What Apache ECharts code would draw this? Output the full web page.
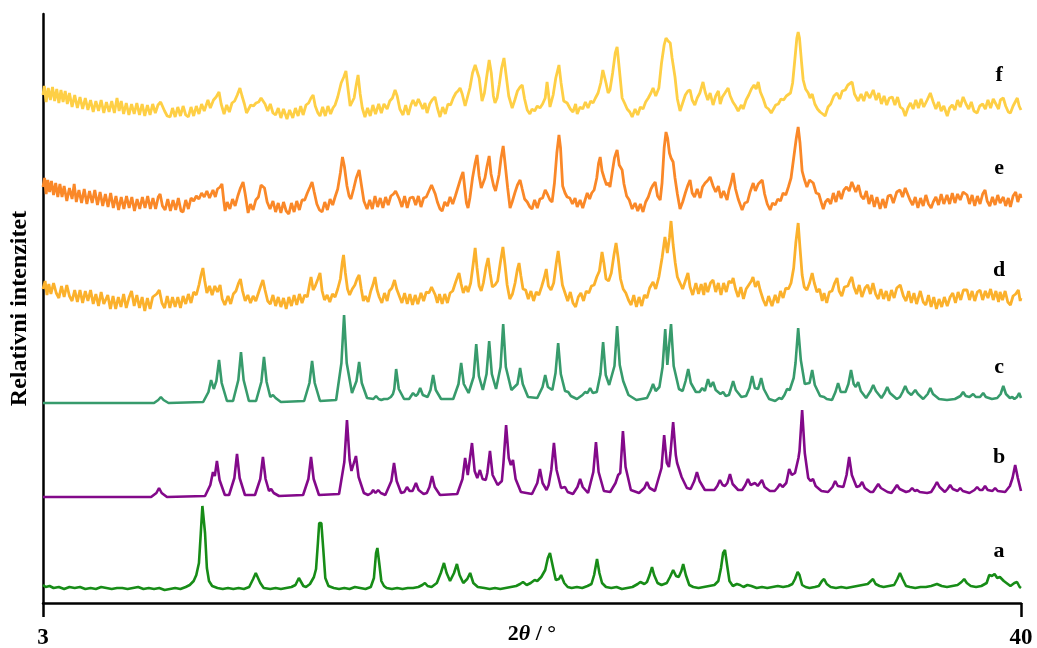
<!DOCTYPE html>
<html>
<head>
<meta charset="utf-8">
<script src="https://cdn.jsdelivr.net/npm/echarts@6/dist/echarts.min.js"></script>
<style>
html, body { margin: 0; padding: 0; background: #fff; }
#chart { width: 1037px; height: 648px; }
</style>
</head>
<body>
<div id="chart"></div>
<script>
// 2theta (deg) vs relative intensity, traces already stacked with their offsets
var traceA = [[3.0,18],[3.1,16],[3.25,17],[3.4,15],[3.6,16],[3.8,14],[4.0,16],[4.2,15],[4.4,16],[4.6,14],[4.8,15],[5.0,14],[5.2,16],[5.4,15],[5.6,14],[5.8,15],[6.0,15],[6.2,14],[6.4,15],[6.6,16],[6.8,14],[7.0,15],[7.2,14],[7.4,15],[7.6,13],[7.8,14],[8.0,15],[8.2,14],[8.4,16],[8.55,18],[8.7,22],[8.8,28],[8.9,40],[8.97,70],[9.03,97],[9.08,99],[9.13,70],[9.2,35],[9.28,22],[9.4,17],[9.6,15],[9.8,14],[10.0,15],[10.2,14],[10.4,15],[10.6,14],[10.8,16],[10.95,24],[11.05,30],[11.12,29],[11.22,20],[11.35,15],[11.6,14],[11.8,15],[12.0,14],[12.2,15],[12.4,16],[12.55,18],[12.68,25],[12.75,24],[12.85,17],[12.95,16],[13.1,19],[13.25,26],[13.33,34],[13.4,60],[13.45,80],[13.53,80],[13.6,55],[13.68,25],[13.8,17],[14.0,15],[14.2,14],[14.4,15],[14.6,14],[14.8,16],[15.0,15],[15.2,14],[15.4,16],[15.52,25],[15.6,50],[15.65,55],[15.72,40],[15.8,22],[15.9,17],[16.0,15],[16.2,14],[16.4,15],[16.6,14],[16.8,15],[17.0,15],[17.2,16],[17.35,18],[17.45,20],[17.55,17],[17.7,16],[17.9,20],[18.05,30],[18.17,40],[18.27,30],[18.4,22],[18.55,30],[18.66,39],[18.76,28],[18.9,20],[19.05,24],[19.16,30],[19.28,20],[19.45,16],[19.7,15],[19.9,14],[20.1,15],[20.3,14],[20.5,15],[20.7,16],[20.9,17],[21.05,19],[21.16,21],[21.3,18],[21.45,20],[21.6,23],[21.7,22],[21.85,26],[22.0,33],[22.1,45],[22.18,50],[22.3,35],[22.4,23],[22.52,24],[22.6,28],[22.72,20],[22.85,16],[23.0,15],[23.2,16],[23.4,15],[23.6,17],[23.75,19],[23.85,28],[23.96,44],[24.05,30],[24.15,20],[24.3,16],[24.5,15],[24.7,16],[24.9,14],[25.1,15],[25.3,16],[25.5,19],[25.6,21],[25.75,19],[25.85,21],[25.95,28],[26.04,36],[26.12,28],[26.25,20],[26.4,18],[26.6,20],[26.72,26],[26.84,33],[26.95,27],[27.05,26],[27.15,32],[27.22,39],[27.32,28],[27.45,18],[27.6,16],[27.8,15],[28.0,16],[28.2,17],[28.4,18],[28.55,22],[28.65,35],[28.73,50],[28.8,53],[28.88,38],[28.97,22],[29.1,17],[29.25,19],[29.37,18],[29.5,16],[29.65,18],[29.8,17],[30.0,15],[30.2,16],[30.4,15],[30.6,16],[30.8,17],[31.0,16],[31.2,17],[31.35,19],[31.45,24],[31.55,31],[31.62,28],[31.72,18],[31.85,16],[32.0,15],[32.2,16],[32.35,17],[32.47,22],[32.55,24],[32.65,19],[32.8,16],[33.0,15],[33.2,16],[33.4,15],[33.6,16],[33.8,17],[34.0,18],[34.2,19],[34.32,22],[34.4,24],[34.5,19],[34.65,17],[34.8,16],[35.0,17],[35.2,18],[35.32,24],[35.42,30],[35.52,24],[35.65,17],[35.8,16],[36.0,15],[36.2,16],[36.4,16],[36.6,17],[36.82,19],[37.0,17],[37.2,16],[37.4,17],[37.6,18],[37.75,21],[37.85,24],[37.95,20],[38.1,17],[38.3,16],[38.5,17],[38.7,20],[38.8,28],[38.9,27],[39.0,29],[39.1,25],[39.2,26],[39.35,22],[39.5,19],[39.6,17],[39.75,20],[39.85,21],[39.95,16],[40.0,15]];

var traceB = [[3,106],[7.09,106],[7.29,110],[7.39,115],[7.49,110],[7.69,106],[9.13,107],[9.33,118],[9.43,131],[9.5,127],[9.58,142],[9.68,123],[9.88,108],[10.04,108],[10.24,125],[10.34,149],[10.44,125],[10.64,108],[11.02,108],[11.22,124],[11.32,146],[11.42,124],[11.55,112],[11.63,114],[11.73,110],[11.93,107],[12.84,108],[13.04,124],[13.14,146],[13.24,124],[13.44,108],[14.2,109],[14.4,141],[14.5,183],[14.6,143],[14.67,132],[14.74,130],[14.84,147],[14.94,126],[15.14,110],[15.3,108],[15.42,110],[15.49,113],[15.58,110],[15.68,113],[15.78,110],[15.95,108],[16.18,122],[16.28,140],[16.38,122],[16.55,110],[16.67,111],[16.77,116],[16.87,112],[16.98,112],[17.11,120],[17.21,113],[17.4,109],[17.52,110],[17.62,116],[17.72,127],[17.82,116],[18.02,108],[18.67,109],[18.87,124],[18.97,145],[19.07,128],[19.13,130],[19.23,160],[19.33,132],[19.43,125],[19.53,133],[19.63,124],[19.75,123],[19.81,130],[19.91,152],[20.01,128],[20.2,118],[20.36,122],[20.42,140],[20.52,178],[20.62,145],[20.7,138],[20.78,143],[20.88,124],[21.08,111],[21.5,109],[21.7,120],[21.8,134],[21.9,120],[22.05,113],[22.13,118],[22.23,133],[22.33,160],[22.43,133],[22.6,115],[22.75,116],[22.85,111],[23.05,109],[23.12,110],[23.22,116],[23.32,124],[23.42,116],[23.62,110],[23.82,131],[23.92,161],[24.02,131],[24.22,112],[24.46,111],[24.66,120],[24.76,128],[24.84,130],[24.94,172],[25.04,136],[25.24,113],[25.55,110],[25.75,115],[25.85,121],[25.95,115],[26.15,112],[26.2,112],[26.4,135],[26.5,168],[26.6,140],[26.68,136],[26.74,150],[26.84,181],[26.94,148],[26.99,140],[27.06,142],[27.16,126],[27.36,115],[27.5,114],[27.64,122],[27.74,131],[27.84,122],[28.04,113],[28.4,113],[28.51,117],[28.61,123],[28.71,118],[28.8,117],[28.89,120],[28.99,129],[29.09,119],[29.3,113],[29.45,113],[29.57,118],[29.67,124],[29.77,118],[29.84,117],[29.94,120],[30.04,117],[30.11,118],[30.2,123],[30.3,116],[30.5,112],[30.68,112],[30.78,115],[30.88,119],[30.98,116],[31.12,120],[31.23,134],[31.33,128],[31.45,130],[31.58,145],[31.62,152],[31.72,193],[31.82,150],[31.95,125],[32.04,122],[32.13,124],[32.23,117],[32.45,112],[32.7,111],[32.87,116],[32.97,122],[33.07,117],[33.28,116],[33.4,128],[33.5,146],[33.6,128],[33.78,116],[33.89,117],[33.99,121],[34.09,115],[34.3,111],[34.4,111],[34.5,115],[34.6,119],[34.7,115],[34.95,111],[35.1,110],[35.21,114],[35.31,118],[35.41,114],[35.65,111],[35.78,112],[35.88,115],[35.98,112],[36.07,113],[36.17,111],[36.45,110],[36.6,111],[36.72,116],[36.82,121],[36.92,116],[37.12,111],[37.22,114],[37.32,118],[37.42,114],[37.6,112],[37.7,115],[37.8,112],[38.05,110],[38.24,113],[38.34,116],[38.44,113],[38.54,113],[38.64,117],[38.74,113],[38.92,112],[39.02,115],[39.12,112],[39.4,111],[39.58,117],[39.68,125],[39.78,138],[39.88,125],[40.0,112]];

var traceC = [[3,200],[7.2,200],[7.36,203],[7.46,206],[7.56,203],[7.75,200],[9.06,201],[9.26,211],[9.36,223],[9.46,214],[9.56,222],[9.66,243],[9.76,220],[9.96,202],[10.19,202],[10.39,223],[10.49,251],[10.59,223],[10.79,202],[11.06,202],[11.26,221],[11.36,246],[11.46,221],[11.6,206],[11.7,208],[11.8,205],[12.0,201],[12.88,202],[13.08,220],[13.18,242],[13.28,220],[13.48,202],[14.09,203],[14.29,240],[14.39,288],[14.49,240],[14.69,210],[14.86,222],[14.96,241],[15.06,220],[15.26,205],[15.5,204],[15.6,207],[15.7,204],[15.8,203],[15.86,205],[15.9,204],[15.94,206],[16.04,204],[16.16,206],[16.24,209],[16.29,214],[16.36,234],[16.46,214],[16.66,204],[16.85,204],[17.0,210],[17.1,207],[17.18,209],[17.27,215],[17.37,208],[17.55,206],[17.66,213],[17.76,228],[17.86,213],[18.06,204],[18.52,204],[18.72,219],[18.82,240],[18.92,219],[19.1,210],[19.29,226],[19.39,259],[19.49,227],[19.64,213],[19.78,229],[19.88,262],[19.98,229],[20.14,214],[20.31,236],[20.41,279],[20.51,236],[20.72,213],[20.95,219],[21.05,235],[21.15,219],[21.35,206],[21.7,205],[21.9,216],[22.0,228],[22.1,216],[22.27,213],[22.39,230],[22.49,260],[22.59,229],[22.75,212],[22.87,211],[22.97,207],[23.2,204],[23.41,208],[23.51,211],[23.6,210],[23.7,215],[23.8,210],[23.95,211],[24.09,229],[24.19,261],[24.29,228],[24.42,218],[24.62,237],[24.72,277],[24.82,238],[24.95,222],[25.15,208],[25.45,203],[25.85,205],[25.98,212],[26.08,219],[26.18,212],[26.32,216],[26.44,236],[26.54,274],[26.62,238],[26.66,238],[26.76,279],[26.86,237],[27.06,214],[27.2,212],[27.31,222],[27.41,234],[27.51,220],[27.7,211],[27.84,211],[27.94,215],[28.04,212],[28.08,214],[28.16,224],[28.25,216],[28.35,221],[28.45,213],[28.63,209],[28.73,211],[28.83,207],[28.95,208],[29.01,213],[29.11,222],[29.21,213],[29.42,206],[29.6,207],[29.73,215],[29.83,227],[29.93,215],[30.05,214],[30.1,218],[30.17,225],[30.27,214],[30.47,204],[30.7,202],[30.85,205],[30.95,204],[31.05,208],[31.15,214],[31.25,213],[31.4,225],[31.47,240],[31.57,275],[31.67,243],[31.82,219],[32.0,220],[32.1,233],[32.2,218],[32.4,207],[32.55,206],[32.65,204],[32.85,203],[32.98,211],[33.08,220],[33.18,211],[33.36,211],[33.47,219],[33.57,233],[33.67,219],[33.75,216],[33.84,221],[33.94,212],[34.14,205],[34.2,206],[34.31,212],[34.41,218],[34.51,212],[34.72,205],[34.84,210],[34.94,216],[35.04,210],[35.3,204],[35.42,206],[35.52,211],[35.62,217],[35.72,211],[35.85,208],[35.9,209],[36.0,213],[36.1,209],[36.3,204],[36.47,209],[36.57,215],[36.67,209],[36.9,204],[37.2,203],[37.5,204],[37.71,207],[37.81,211],[37.91,207],[38.05,206],[38.19,209],[38.29,206],[38.45,206],[38.57,210],[38.67,206],[38.9,204],[39.1,205],[39.23,209],[39.33,217],[39.43,209],[39.58,205],[39.67,206],[39.75,204],[39.85,206],[39.93,210],[40.0,205]];

var traceD = [[3.0,314],[3.08,322],[3.15,308],[3.22,319],[3.3,309],[3.4,320],[3.5,310],[3.6,305],[3.7,317],[3.8,306],[3.9,318],[4.0,307],[4.1,302],[4.2,313],[4.3,301],[4.4,313],[4.5,300],[4.6,312],[4.7,302],[4.8,313],[4.9,299],[5.0,309],[5.1,297],[5.2,311],[5.3,299],[5.45,308],[5.55,294],[5.65,307],[5.75,294],[5.85,306],[5.95,296],[6.05,309],[6.15,295],[6.25,305],[6.35,312],[6.45,297],[6.55,308],[6.65,295],[6.75,306],[6.85,292],[6.95,305],[7.05,294],[7.15,306],[7.3,309],[7.4,313],[7.5,300],[7.6,295],[7.7,307],[7.8,295],[7.9,306],[8.0,296],[8.1,306],[8.2,295],[8.3,307],[8.4,299],[8.5,309],[8.6,300],[8.7,311],[8.8,308],[8.9,318],[8.98,328],[9.05,335],[9.12,322],[9.2,310],[9.3,317],[9.4,308],[9.5,317],[9.6,311],[9.7,318],[9.78,304],[9.88,298],[10.0,307],[10.1,299],[10.2,309],[10.3,312],[10.4,320],[10.47,324],[10.55,312],[10.65,302],[10.75,308],[10.85,300],[10.95,307],[11.05,302],[11.15,310],[11.25,318],[11.32,323],[11.4,313],[11.5,302],[11.6,299],[11.7,308],[11.8,297],[11.9,306],[12.0,296],[12.1,305],[12.2,294],[12.3,306],[12.4,297],[12.5,308],[12.6,298],[12.7,309],[12.8,300],[12.9,308],[13.0,306],[13.08,318],[13.14,326],[13.22,313],[13.3,317],[13.4,324],[13.48,330],[13.56,312],[13.65,303],[13.75,308],[13.85,301],[13.95,309],[14.05,306],[14.15,314],[14.25,324],[14.32,340],[14.37,348],[14.44,330],[14.52,314],[14.6,308],[14.7,314],[14.8,318],[14.88,324],[14.96,328],[15.04,314],[15.12,302],[15.2,307],[15.3,301],[15.4,312],[15.48,318],[15.56,326],[15.64,313],[15.72,306],[15.82,300],[15.92,310],[16.02,302],[16.1,312],[16.2,315],[16.3,323],[16.38,314],[16.48,307],[16.58,300],[16.68,310],[16.78,299],[16.88,309],[16.98,298],[17.08,308],[17.18,299],[17.3,310],[17.4,302],[17.5,311],[17.6,310],[17.7,316],[17.76,318],[17.84,308],[17.92,300],[18.0,309],[18.1,299],[18.2,309],[18.3,300],[18.4,310],[18.5,312],[18.6,320],[18.68,326],[18.74,330],[18.82,319],[18.9,310],[19.0,317],[19.08,311],[19.18,320],[19.28,340],[19.35,355],[19.42,335],[19.5,317],[19.58,312],[19.66,320],[19.76,336],[19.84,345],[19.92,329],[20.0,316],[20.1,318],[20.2,322],[20.3,340],[20.4,356],[20.48,338],[20.56,318],[20.66,304],[20.76,309],[20.86,320],[20.95,334],[21.01,340],[21.08,327],[21.16,314],[21.26,313],[21.36,304],[21.46,312],[21.56,302],[21.66,311],[21.76,308],[21.86,316],[21.96,325],[22.04,334],[22.12,317],[22.22,313],[22.32,320],[22.42,340],[22.49,352],[22.56,337],[22.65,318],[22.75,310],[22.85,302],[22.95,311],[23.05,300],[23.15,296],[23.25,306],[23.35,310],[23.45,302],[23.55,312],[23.65,310],[23.75,317],[23.85,318],[23.95,326],[24.05,332],[24.15,351],[24.22,340],[24.3,324],[24.4,322],[24.5,330],[24.6,348],[24.68,360],[24.76,345],[24.85,324],[24.95,314],[25.05,310],[25.15,303],[25.25,298],[25.35,308],[25.45,296],[25.55,306],[25.65,297],[25.75,308],[25.85,305],[25.95,315],[26.08,321],[26.18,314],[26.3,326],[26.42,345],[26.53,366],[26.62,350],[26.7,365],[26.76,382],[26.84,358],[26.92,340],[27.0,326],[27.1,320],[27.2,314],[27.3,322],[27.4,330],[27.48,316],[27.58,308],[27.7,320],[27.8,309],[27.9,319],[28.0,308],[28.05,320],[28.15,311],[28.25,320],[28.35,323],[28.45,311],[28.55,320],[28.65,308],[28.75,320],[28.85,311],[28.95,322],[29.05,320],[29.11,325],[29.2,314],[29.3,306],[29.4,316],[29.5,304],[29.6,314],[29.7,318],[29.8,322],[29.86,326],[29.95,316],[30.05,322],[30.13,313],[30.25,303],[30.35,297],[30.45,307],[30.58,297],[30.7,308],[30.8,300],[30.9,312],[31.0,305],[31.1,315],[31.2,314],[31.3,320],[31.4,335],[31.48,360],[31.57,380],[31.64,355],[31.72,328],[31.8,316],[31.9,313],[32.0,320],[32.1,330],[32.18,320],[32.28,311],[32.38,314],[32.48,302],[32.55,310],[32.65,300],[32.75,311],[32.85,312],[32.95,320],[33.04,325],[33.12,312],[33.22,307],[33.32,316],[33.45,317],[33.52,322],[33.6,326],[33.68,316],[33.78,309],[33.88,318],[33.98,306],[34.1,315],[34.2,318],[34.3,309],[34.4,320],[34.5,309],[34.6,304],[34.7,314],[34.8,304],[34.9,312],[35.0,302],[35.1,313],[35.2,305],[35.3,315],[35.43,318],[35.55,307],[35.65,302],[35.75,312],[35.85,300],[35.95,310],[36.05,299],[36.19,312],[36.3,301],[36.4,298],[36.5,308],[36.6,296],[36.7,306],[36.8,294],[36.9,304],[37.0,296],[37.1,306],[37.21,297],[37.32,306],[37.42,310],[37.52,300],[37.62,311],[37.72,303],[37.82,313],[37.96,313],[38.05,303],[38.15,312],[38.25,302],[38.35,311],[38.45,313],[38.55,303],[38.65,312],[38.75,305],[38.85,314],[38.95,303],[39.05,312],[39.15,301],[39.21,311],[39.3,303],[39.4,312],[39.5,301],[39.6,298],[39.7,307],[39.8,309],[39.9,313],[39.97,302],[40.0,305]];

var traceE = [[3.0,416],[3.06,425],[3.12,409],[3.18,423],[3.25,411],[3.32,422],[3.4,408],[3.48,420],[3.56,406],[3.64,419],[3.72,406],[3.8,417],[3.9,402],[4.0,415],[4.1,404],[4.18,419],[4.26,401],[4.36,413],[4.46,400],[4.56,414],[4.66,399],[4.76,412],[4.86,400],[4.96,413],[5.06,398],[5.16,411],[5.26,397],[5.36,409],[5.46,396],[5.56,410],[5.66,395],[5.76,407],[5.86,393],[5.96,406],[6.06,394],[6.16,407],[6.26,395],[6.36,406],[6.46,392],[6.56,404],[6.66,394],[6.76,406],[6.86,395],[6.96,407],[7.06,394],[7.16,405],[7.26,394],[7.36,406],[7.43,409],[7.52,397],[7.62,393],[7.72,404],[7.82,392],[7.92,403],[8.02,393],[8.12,405],[8.22,392],[8.3,391],[8.4,403],[8.5,394],[8.6,405],[8.7,402],[8.8,407],[8.9,404],[9.0,410],[9.1,406],[9.2,412],[9.3,405],[9.43,413],[9.52,406],[9.6,414],[9.7,416],[9.77,419],[9.84,402],[9.89,392],[9.97,401],[10.07,394],[10.17,404],[10.27,397],[10.37,407],[10.47,415],[10.57,421],[10.65,409],[10.76,390],[10.85,399],[10.95,393],[11.05,403],[11.15,406],[11.25,418],[11.3,420],[11.38,415],[11.48,401],[11.59,394],[11.7,402],[11.8,391],[11.9,400],[12.0,390],[12.1,401],[12.2,392],[12.3,389],[12.4,400],[12.5,391],[12.6,402],[12.7,393],[12.8,403],[12.9,403],[13.0,410],[13.1,416],[13.18,421],[13.26,411],[13.36,399],[13.46,393],[13.56,391],[13.66,401],[13.76,393],[13.86,404],[13.96,398],[14.05,406],[14.15,414],[14.25,430],[14.33,446],[14.4,437],[14.5,417],[14.58,407],[14.65,404],[14.75,414],[14.85,425],[14.96,433],[15.04,419],[15.14,402],[15.26,394],[15.36,403],[15.46,394],[15.56,407],[15.66,396],[15.76,405],[15.86,395],[15.96,406],[16.06,398],[16.16,407],[16.26,409],[16.34,412],[16.4,413],[16.48,404],[16.58,396],[16.68,407],[16.78,395],[16.88,405],[17.0,406],[17.1,398],[17.2,407],[17.3,396],[17.4,405],[17.5,406],[17.6,412],[17.7,418],[17.76,420],[17.84,409],[17.92,401],[18.02,394],[18.1,392],[18.2,401],[18.3,397],[18.4,406],[18.5,399],[18.6,407],[18.67,408],[18.75,420],[18.82,426],[18.89,431],[18.96,414],[19.02,400],[19.08,395],[19.15,405],[19.25,425],[19.35,440],[19.42,448],[19.5,427],[19.58,415],[19.65,415],[19.72,425],[19.8,437],[19.88,447],[19.95,429],[20.05,417],[20.12,412],[20.18,414],[20.25,428],[20.33,445],[20.41,457],[20.48,440],[20.58,415],[20.67,395],[20.75,401],[20.85,410],[20.95,418],[21.05,423],[21.13,414],[21.22,404],[21.32,401],[21.42,396],[21.5,394],[21.6,403],[21.7,395],[21.8,404],[21.9,405],[22.0,413],[22.08,409],[22.18,403],[22.26,401],[22.35,420],[22.44,450],[22.52,468],[22.58,455],[22.66,417],[22.75,410],[22.83,406],[22.93,405],[23.03,399],[23.13,405],[23.21,396],[23.32,403],[23.42,395],[23.52,404],[23.59,410],[23.68,404],[23.76,410],[23.85,413],[23.95,425],[24.02,440],[24.08,446],[24.15,432],[24.23,425],[24.32,418],[24.4,420],[24.45,416],[24.53,430],[24.62,445],[24.68,450],[24.72,453],[24.8,438],[24.91,433],[24.98,419],[25.08,407],[25.18,403],[25.29,394],[25.4,400],[25.5,392],[25.6,399],[25.7,391],[25.8,401],[25.9,406],[26.0,414],[26.08,418],[26.16,421],[26.25,407],[26.35,403],[26.42,420],[26.5,455],[26.57,471],[26.63,465],[26.7,450],[26.76,445],[26.84,441],[26.91,425],[27.0,409],[27.1,394],[27.2,401],[27.3,410],[27.4,418],[27.48,423],[27.56,410],[27.65,406],[27.75,414],[27.86,405],[27.95,416],[28.05,420],[28.13,422],[28.24,426],[28.35,417],[28.45,411],[28.55,417],[28.65,405],[28.75,412],[28.88,403],[28.95,413],[29.03,420],[29.11,430],[29.2,414],[29.3,404],[29.37,403],[29.45,393],[29.55,400],[29.65,401],[29.75,411],[29.87,420],[29.95,412],[30.06,419],[30.13,420],[30.21,423],[30.3,409],[30.4,399],[30.51,393],[30.6,400],[30.7,398],[30.8,404],[30.9,402],[31.0,410],[31.1,408],[31.2,416],[31.3,425],[31.4,445],[31.5,465],[31.57,476],[31.64,460],[31.72,432],[31.8,424],[31.9,416],[32.0,423],[32.14,420],[32.25,410],[32.35,409],[32.45,400],[32.52,394],[32.6,401],[32.7,404],[32.8,399],[32.9,410],[33.0,401],[33.1,412],[33.2,404],[33.3,413],[33.4,416],[33.5,412],[33.6,421],[33.65,420],[33.75,411],[33.85,418],[33.95,407],[34.05,404],[34.15,412],[34.25,399],[34.35,408],[34.45,396],[34.55,406],[34.67,394],[34.77,404],[34.87,395],[34.97,407],[35.07,408],[35.17,400],[35.3,411],[35.42,413],[35.52,406],[35.62,415],[35.69,415],[35.8,403],[35.9,398],[36.0,406],[36.1,395],[36.2,405],[36.3,397],[36.4,408],[36.5,399],[36.6,395],[36.68,401],[36.78,406],[36.88,398],[36.98,409],[37.08,399],[37.2,408],[37.3,399],[37.4,410],[37.5,400],[37.6,409],[37.7,403],[37.81,411],[37.96,408],[38.05,399],[38.15,408],[38.25,397],[38.35,407],[38.45,399],[38.55,409],[38.64,413],[38.72,402],[38.82,397],[38.92,406],[39.02,398],[39.12,408],[39.21,400],[39.33,406],[39.42,397],[39.52,405],[39.6,396],[39.7,407],[39.8,411],[39.88,401],[39.97,409],[40.0,405]];

var traceF = [[3.0,508],[3.05,517],[3.12,501],[3.2,515],[3.28,503],[3.36,516],[3.44,502],[3.52,514],[3.6,500],[3.68,513],[3.76,501],[3.84,512],[3.92,499],[4.0,510],[4.1,496],[4.2,508],[4.3,495],[4.4,506],[4.5,494],[4.6,505],[4.7,493],[4.8,503],[4.9,491],[5.0,502],[5.1,492],[5.2,503],[5.3,490],[5.4,501],[5.5,491],[5.6,502],[5.7,490],[5.8,505],[5.88,492],[5.96,502],[6.05,489],[6.15,500],[6.25,488],[6.35,499],[6.45,489],[6.55,500],[6.65,488],[6.75,499],[6.85,487],[6.95,498],[7.05,488],[7.15,499],[7.25,490],[7.35,498],[7.45,501],[7.52,500],[7.6,492],[7.7,487],[7.81,486],[7.9,495],[8.0,486],[8.1,496],[8.2,487],[8.3,497],[8.4,488],[8.5,486],[8.6,496],[8.7,487],[8.8,497],[8.9,489],[9.0,499],[9.1,492],[9.24,503],[9.33,495],[9.45,503],[9.55,506],[9.66,511],[9.74,499],[9.85,489],[9.95,498],[10.05,491],[10.15,500],[10.25,502],[10.35,508],[10.45,515],[10.53,507],[10.62,499],[10.7,490],[10.76,489],[10.86,498],[10.96,497],[11.06,500],[11.16,501],[11.25,505],[11.32,506],[11.4,499],[11.5,492],[11.6,499],[11.7,490],[11.8,488],[11.9,495],[12.0,485],[12.1,494],[12.23,484],[12.33,493],[12.45,485],[12.55,495],[12.65,487],[12.75,497],[12.84,488],[12.95,498],[13.05,500],[13.14,505],[13.22,508],[13.3,497],[13.4,490],[13.48,487],[13.58,496],[13.68,487],[13.78,497],[13.88,489],[13.97,495],[14.05,498],[14.15,506],[14.28,520],[14.38,526],[14.46,532],[14.54,514],[14.62,497],[14.69,496],[14.77,505],[14.85,518],[14.92,528],[15.0,509],[15.08,495],[15.18,486],[15.28,495],[15.38,487],[15.48,498],[15.58,489],[15.7,499],[15.8,490],[15.9,499],[16.02,494],[16.12,502],[16.22,505],[16.32,513],[16.4,507],[16.5,494],[16.62,488],[16.72,498],[16.82,488],[16.92,498],[17.0,503],[17.1,497],[17.2,504],[17.27,500],[17.37,494],[17.45,500],[17.53,490],[17.63,499],[17.72,503],[17.83,506],[17.92,495],[18.02,486],[18.12,496],[18.22,489],[18.32,499],[18.42,498],[18.52,505],[18.62,510],[18.7,512],[18.78,515],[18.86,509],[18.97,497],[19.05,505],[19.15,515],[19.25,530],[19.35,538],[19.42,540],[19.5,525],[19.61,502],[19.7,510],[19.78,525],[19.88,543],[19.96,530],[20.04,507],[20.1,500],[20.18,505],[20.26,518],[20.35,535],[20.44,545],[20.52,528],[20.62,507],[20.75,495],[20.85,503],[20.95,512],[21.05,516],[21.13,518],[21.22,504],[21.32,493],[21.42,489],[21.5,494],[21.6,492],[21.7,497],[21.8,495],[21.9,499],[22.0,505],[22.07,521],[22.12,510],[22.18,496],[22.3,508],[22.4,525],[22.52,538],[22.6,520],[22.7,502],[22.83,500],[22.95,494],[23.05,491],[23.15,499],[23.21,489],[23.32,496],[23.42,494],[23.52,501],[23.62,495],[23.72,502],[23.81,500],[23.9,505],[24.0,510],[24.1,520],[24.18,533],[24.23,535],[24.3,520],[24.38,510],[24.45,513],[24.55,530],[24.65,550],[24.72,556],[24.8,535],[24.91,505],[25.0,500],[25.1,494],[25.2,491],[25.29,486],[25.4,494],[25.5,488],[25.6,496],[25.7,494],[25.8,501],[25.9,505],[26.0,510],[26.08,515],[26.18,507],[26.3,515],[26.4,540],[26.5,558],[26.57,565],[26.65,562],[26.73,560],[26.8,545],[26.91,526],[27.0,504],[27.1,492],[27.2,500],[27.3,508],[27.4,512],[27.48,513],[27.56,503],[27.66,498],[27.75,505],[27.85,510],[27.97,521],[28.05,511],[28.15,503],[28.24,510],[28.35,498],[28.45,507],[28.55,512],[28.62,499],[28.7,506],[28.8,510],[28.92,515],[29.0,507],[29.1,501],[29.2,497],[29.3,492],[29.42,498],[29.49,494],[29.6,503],[29.7,508],[29.8,514],[29.9,518],[29.98,514],[30.06,521],[30.14,511],[30.25,504],[30.35,496],[30.45,494],[30.55,490],[30.62,490],[30.72,498],[30.82,499],[30.92,504],[31.02,503],[31.12,507],[31.19,505],[31.28,510],[31.36,520],[31.45,545],[31.52,565],[31.57,571],[31.62,565],[31.7,540],[31.76,523],[31.85,514],[31.95,510],[32.02,505],[32.1,509],[32.2,499],[32.3,494],[32.4,491],[32.5,489],[32.59,487],[32.7,496],[32.8,499],[32.92,507],[33.04,510],[33.14,504],[33.24,512],[33.35,513],[33.45,518],[33.52,520],[33.61,521],[33.7,509],[33.84,502],[33.95,509],[34.05,502],[34.15,511],[34.28,505],[34.41,513],[34.52,503],[34.62,510],[34.72,499],[34.82,507],[34.92,498],[35.02,505],[35.13,506],[35.23,498],[35.33,506],[35.43,496],[35.53,494],[35.62,487],[35.72,495],[35.82,500],[35.92,494],[36.02,503],[36.12,495],[36.22,504],[36.32,496],[36.45,503],[36.57,510],[36.68,501],[36.78,494],[36.88,501],[36.98,492],[37.08,497],[37.21,487],[37.3,495],[37.4,498],[37.5,493],[37.6,503],[37.7,496],[37.81,506],[37.92,499],[38.02,494],[38.12,501],[38.22,492],[38.34,490],[38.44,497],[38.55,499],[38.65,494],[38.75,503],[38.85,495],[38.95,504],[39.05,499],[39.15,494],[39.22,503],[39.33,505],[39.42,497],[39.52,491],[39.6,490],[39.7,497],[39.8,502],[39.86,505],[39.93,497],[40.0,493]];

var traceNames = ['a', 'b', 'c', 'd', 'e', 'f'];
var traceData = [traceA, traceB, traceC, traceD, traceE, traceF];
var traceColors = ['#178c17', '#83098a', '#379b6c', '#fbb12c', '#fa8828', '#fecf45'];
// where the letter sits next to each trace, in data units
var labelX = 39.17;
var labelY = [52, 146, 236, 333, 435, 528];
var xTicks = [3, 40];

var font = 'Liberation Serif, Times New Roman, serif';

var series = traceData.map(function (d, i) {
    return {
        name: traceNames[i],
        type: 'line',
        data: d,
        symbol: 'none',
        silent: true,
        z: 10 - i,
        lineStyle: { color: traceColors[i], width: i >= 3 ? 2.8 : 2.6 },
        markPoint: {
            symbol: 'circle',
            symbolSize: 0,
            silent: true,
            data: [{ coord: [labelX, labelY[i]] }],
            label: {
                show: true,
                position: 'inside',
                formatter: traceNames[i],
                color: '#000',
                fontFamily: font,
                fontWeight: 'bold',
                fontSize: 22
            }
        }
    };
});

var chart = echarts.init(document.getElementById('chart'));
chart.setOption({
    animation: false,
    backgroundColor: '#fff',
    grid: { left: 43, right: 16, top: 14, bottom: 45, outerBoundsMode: 'none' },
    xAxis: {
        type: 'value',
        min: 3,
        max: 40,
        name: '{n|2}{i|θ}{n| / °}',
        nameLocation: 'middle',
        nameGap: 20,
        nameMoveOverlap: false,
        nameTextStyle: {
            rich: {
                n: { fontFamily: font, fontWeight: 'bold', fontSize: 22, color: '#000' },
                i: { fontFamily: font, fontWeight: 'bold', fontStyle: 'italic', fontSize: 22, color: '#000' }
            }
        },
        axisLine: { show: true, onZero: false, lineStyle: { color: '#000', width: 2.5 } },
        axisTick: { show: true, customValues: xTicks, length: 14, inside: false, lineStyle: { color: '#000', width: 2.5 } },
        axisLabel: { show: true, customValues: xTicks, margin: 24, color: '#000', fontFamily: font, fontWeight: 'bold', fontSize: 23 },
        splitLine: { show: false }
    },
    yAxis: {
        type: 'value',
        min: 0,
        max: 589,
        name: 'Relativni intenzitet',
        nameLocation: 'middle',
        nameGap: 11,
        nameMoveOverlap: false,
        nameTextStyle: { fontFamily: font, fontWeight: 'bold', fontSize: 24, color: '#000' },
        axisLine: { show: true, onZero: false, lineStyle: { color: '#000', width: 2.5 } },
        axisTick: { show: false },
        axisLabel: { show: false },
        splitLine: { show: false }
    },
    series: series
});
</script>
</body>
</html>
